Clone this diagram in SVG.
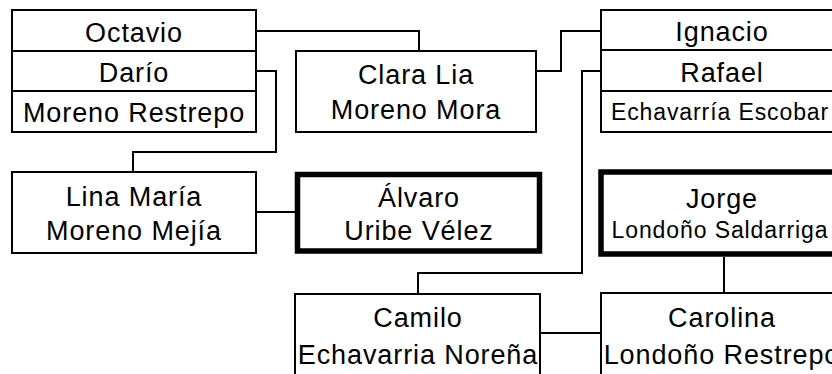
<svg xmlns="http://www.w3.org/2000/svg" width="832" height="374" viewBox="0 0 832 374">
<style>
.box{fill:#fff;stroke:#000;stroke-width:2}
.bold{fill:#fff;stroke:#000;stroke-width:5.5}
.div{stroke:#000;stroke-width:2;fill:none}
.con{stroke:#000;stroke-width:2;fill:none}
text{font-family:"Liberation Sans",Arial,sans-serif;font-size:27px;letter-spacing:0.9px;text-anchor:middle;fill:#000}
text.s{font-size:23px;letter-spacing:0.9px}
</style>
<rect width="832" height="374" fill="#fff"/>
<g id="connectors">
<path class="con" d="M256,31 H419 V51"/>
<path class="con" d="M256,71 H276 V152 H133 V172"/>
<path class="con" d="M536,71 H561 V31 H601"/>
<path class="con" d="M601,71 H582 V273 H418 V294"/>
<path class="con" d="M256,212 H296"/>
<path class="con" d="M724,257 V293"/>
<path class="con" d="M540,333 H601"/>
</g>
<g id="octavio">
<rect class="box" x="12" y="10" width="244" height="122"/>
<path class="div" d="M12,51 H256 M12,91 H256"/>
<text x="134" y="41.5">Octavio</text>
<text x="134" y="81.5">Darío</text>
<text x="134" y="121.5">Moreno Restrepo</text>
</g>
<g id="clara">
<rect class="box" x="296" y="51" width="240" height="81"/>
<text x="416" y="84">Clara Lia</text>
<text x="416" y="119">Moreno Mora</text>
</g>
<g id="ignacio">
<rect class="box" x="601" y="10" width="244" height="122"/>
<path class="div" d="M601,50 H845 M601,91 H845"/>
<text x="722" y="40.5">Ignacio</text>
<text x="722" y="81.5">Rafael</text>
<text class="s" x="720" y="119.5">Echavarría Escobar</text>
</g>
<g id="lina">
<rect class="box" x="12" y="172" width="244" height="81"/>
<text x="134" y="205.5">Lina María</text>
<text x="134" y="240">Moreno Mejía</text>
</g>
<g id="alvaro">
<rect class="bold" x="297.5" y="174.5" width="242" height="76.5"/>
<text x="419" y="206.5">Álvaro</text>
<text x="419" y="240">Uribe Vélez</text>
</g>
<g id="jorge">
<rect class="bold" x="601" y="172" width="244" height="82"/>
<text x="722" y="208">Jorge</text>
<text class="s" x="720" y="238">Londoño Saldarriga</text>
</g>
<g id="camilo">
<rect class="box" x="295" y="294" width="245" height="84"/>
<text x="418" y="326.5">Camilo</text>
<text x="418" y="364">Echavarria Noreña</text>
</g>
<g id="carolina">
<rect class="box" x="601" y="293" width="244" height="85"/>
<text x="722" y="326.5">Carolina</text>
<text x="722" y="364">Londoño Restrepo</text>
</g>
</svg>
